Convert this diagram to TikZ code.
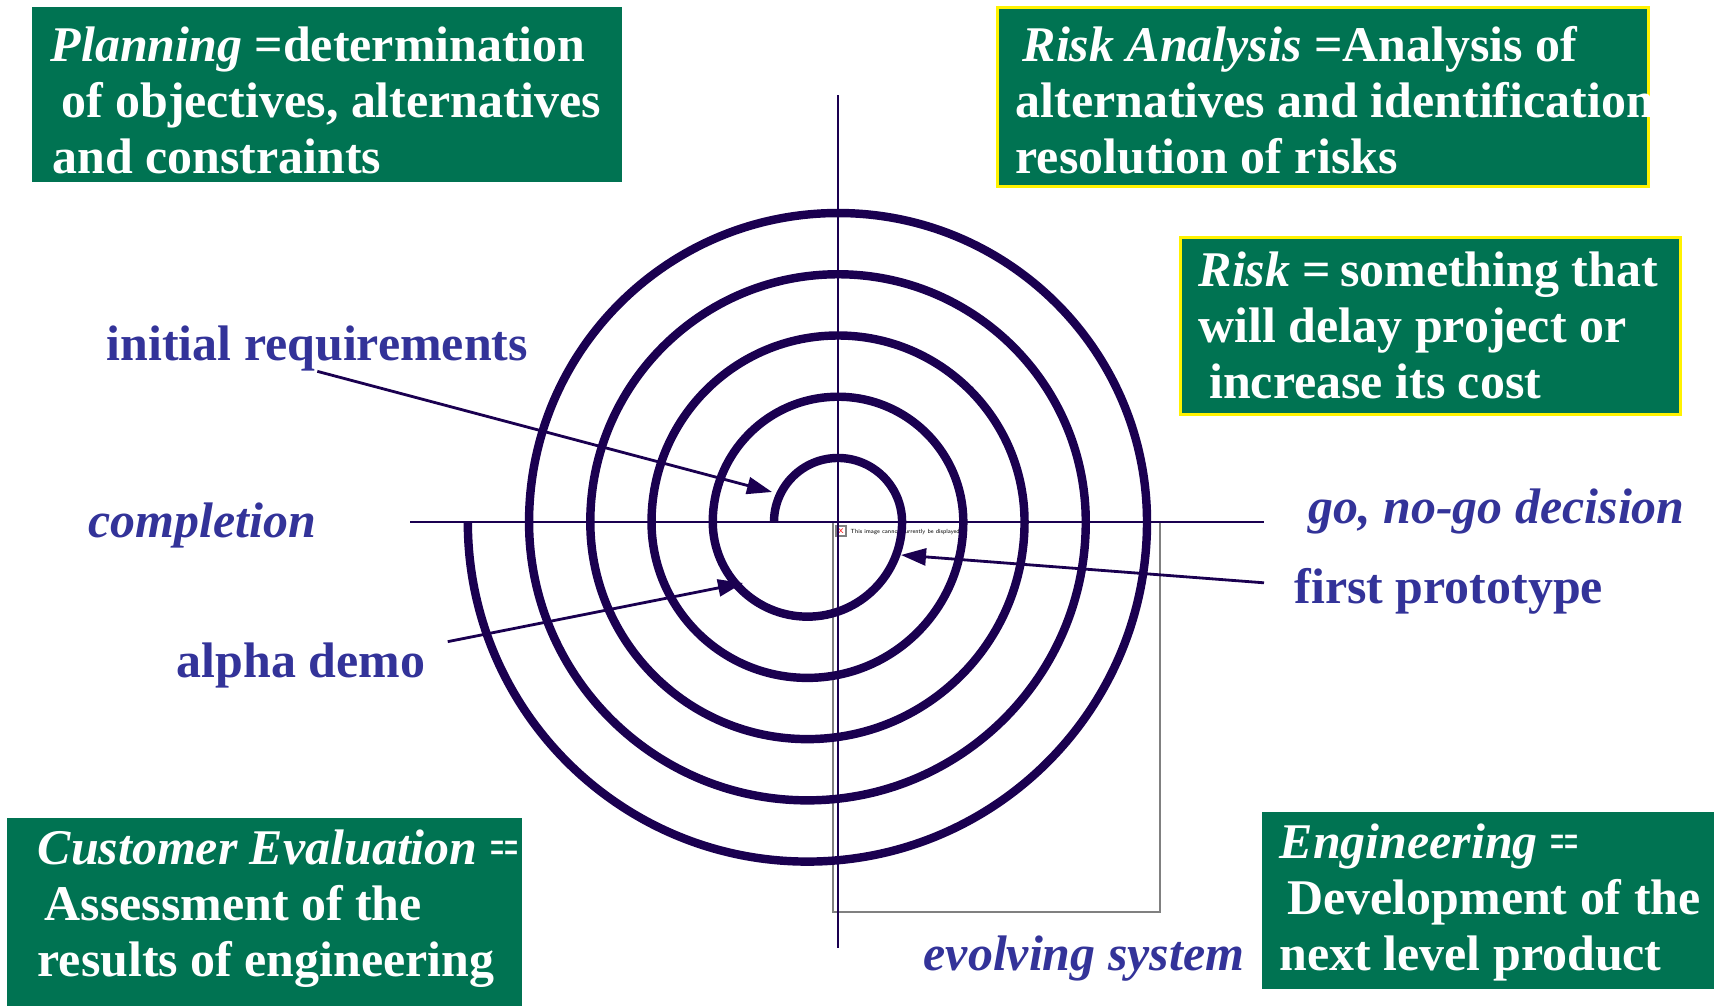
\documentclass[tikz,border=0pt]{standalone}
\usepackage{fontspec}
\setmainfont{Liberation Serif}
\usepackage{graphicx}
\usepackage{tikz}
\usetikzlibrary{arrows.meta}
\definecolor{spiralblue}{HTML}{1A0050}
\definecolor{labelblue}{HTML}{333399}
\definecolor{boxgreen}{HTML}{007352}
\def\spup#1{arc[start angle=180,end angle=0,radius=#1cm]}
\def\spdn#1{arc[start angle=0,end angle=-180,radius=#1cm]}
\def\gbox{\fill[boxgreen]}
\def\ybox{\filldraw[boxgreen,draw=yellow,line width=0.85pt]}
\def\lblfont{\fontsize{14.2}{15.9}\selectfont\bfseries}

\begin{document}
\begin{tikzpicture}[x=0.01cm,y=-0.01cm,
    lbl/.style={text=labelblue,font=\lblfont,inner sep=0,anchor=base west},
    boxtext/.style={text=white,font=\lblfont,align=left,inner sep=0,anchor=north west},
    pointer/.style={spiralblue,line width=0.8pt,-{Triangle[length=0.25cm,width=0.17cm]}}]
                \useasboundingbox (0,0) rectangle (1714,1006);
                \gbox (32,7) rectangle (622,182);
                \node[boxtext] (planning) at (50,26) {\textit{Planning} =determination\\\hspace*{3pt}of objectives, alternatives\\\hspace*{0.5pt}and constraints};
                \ybox (997.5,7.5) rectangle (1648.5,186.5);
                \node[boxtext] (riskanalysis) at (1015,26) {\hspace*{2pt}\textit{Risk Analysis} =Analysis of\\alternatives and identification\\resolution of risks};
                \ybox (1180.5,237.5) rectangle (1680.5,414.5);
                \node[boxtext] (risk) at (1198,251) {\textit{Risk} =\hspace{2.5pt}something that\\will delay project or\\\hspace*{3pt}increase its cost};
                \gbox (7,818) rectangle (522,1006);
                \node[boxtext] (custeval) at (37,829) {\textit{Customer Evaluation} \scalebox{0.5}[1]{==}\\\hspace*{2pt}Assessment of the\\results of engineering};
                \gbox (1262,812) rectangle (1714,989);
                \node[boxtext] (engineering) at (1279,823) {\textit{Engineering} \scalebox{0.5}[1]{==}\\\hspace*{2.2pt}Development of the\\next level product};

                \node[lbl] (initreq) at (106,360) {initial requirements};
                \node[lbl,font=\lblfont\itshape] (completion) at (88,537) {completion};
                \node[lbl] (alpha) at (176,677) {alpha demo};
                \node[lbl,font=\lblfont\itshape] (gonogo) at (1308,523) {go, no-go decision};
                \node[lbl] (proto) at (1294,603) {first prototype};
                \node[lbl,font=\lblfont\itshape] (evolving) at (923,970) {evolving system};

                \draw[gray,line width=0.45pt] (833,522) rectangle (1160,912);
                \node[draw=gray,fill=white,inner sep=0,minimum size=0.1cm,text=red,font=\sffamily\fontsize{3}{3}\selectfont] (noimg) at (841,531) {x};
                \node[anchor=base west,inner sep=0,font=\sffamily\fontsize{1.7}{2}\selectfont] (noimgtxt) at (850,533) {This image cannot currently be displayed.};

                \draw[spiralblue,line width=0.75pt] (838,95) -- (838,948) (410,522) -- (1264,522);
                \draw[spiralblue,line width=2.4pt] (774,522) \spup{0.64} \spdn{0.946} \spup{1.252} \spdn{1.558} \spup{1.864}
                    \spdn{2.17} \spup{2.476} \spdn{2.782} \spup{3.088} \spdn{3.394};

                \coordinate (reqtip) at (772,492);
                \coordinate (alphatip) at (743,583);
                \coordinate (prototip) at (901,555);
                \draw[pointer] (initreq.south) -- (reqtip);
                \draw[pointer] ([shift={(22,0)}]alpha.north east) -- (alphatip);
                \draw[pointer] ([shift={(-30,-8)}]proto.west) -- (prototip);
            \end{tikzpicture}
\end{document}
